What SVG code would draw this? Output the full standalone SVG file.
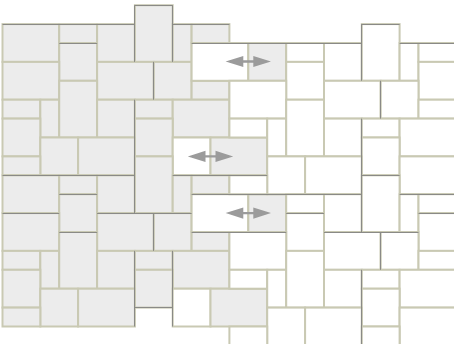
<svg xmlns="http://www.w3.org/2000/svg" width="454" height="344" viewBox="0 0 454 344">
<style>
rect{stroke:#c9c9b3;stroke-width:2}
.g{fill:#ececec}
.w{fill:#ffffff}
.dk{fill:none;stroke:#8a8a86;stroke-width:1}
.arr{fill:#9b9b9b}
</style>
<defs>
<path id="arrow" d="M-22.7,0 L-5,-5.6 L-5,-1.2 L5,-1.2 L5,-5.6 L22.7,0 L5,5.6 L5,1.2 L-5,1.2 L-5,5.6 Z"/>
</defs>
<rect x="0" y="0" width="454" height="344" fill="#ffffff" style="stroke:none"/>
<g id="left-piece">
<rect class="g" x="2.5" y="24.1" width="56.7" height="37.8"/>
<rect class="g" x="59.2" y="24.1" width="37.9" height="18.9"/>
<rect class="g" x="59.2" y="43.0" width="37.9" height="37.8"/>
<rect class="g" x="97.1" y="24.1" width="37.8" height="37.8"/>
<rect class="g" x="134.9" y="5.2" width="37.8" height="56.7"/>
<rect class="g" x="172.7" y="24.1" width="18.9" height="37.8"/>
<rect class="g" x="191.6" y="24.1" width="37.8" height="18.9"/>
<rect class="g" x="2.5" y="61.9" width="56.7" height="37.8"/>
<rect class="g" x="97.1" y="61.9" width="56.7" height="37.8"/>
<rect class="g" x="153.8" y="61.9" width="37.8" height="37.8"/>
<rect class="g" x="191.6" y="80.8" width="37.8" height="18.9"/>
<rect class="g" x="2.5" y="99.7" width="37.8" height="18.9"/>
<rect class="g" x="40.3" y="99.7" width="18.9" height="37.8"/>
<rect class="g" x="59.2" y="80.8" width="37.9" height="56.7"/>
<rect class="g" x="97.1" y="99.7" width="37.8" height="37.8"/>
<rect class="g" x="134.9" y="99.7" width="37.8" height="18.9"/>
<rect class="g" x="172.7" y="99.7" width="56.7" height="37.8"/>
<rect class="g" x="2.5" y="118.6" width="37.8" height="37.8"/>
<rect class="g" x="134.9" y="118.6" width="37.8" height="37.8"/>
<rect class="g" x="40.3" y="137.5" width="37.8" height="37.8"/>
<rect class="g" x="78.1" y="137.5" width="56.8" height="37.8"/>
<rect class="g" x="2.5" y="156.4" width="37.8" height="18.9"/>
<rect class="w" x="191.6" y="43.0" width="56.7" height="37.8"/>
<rect class="g" x="248.3" y="43.0" width="37.9" height="37.8"/>
<rect class="w" x="172.7" y="137.5" width="37.8" height="37.8"/>
<rect class="g" x="210.5" y="137.5" width="56.7" height="37.8"/>
<rect class="g" x="2.5" y="175.3" width="56.7" height="37.8"/>
<rect class="g" x="59.2" y="175.3" width="37.9" height="18.9"/>
<rect class="g" x="59.2" y="194.2" width="37.9" height="37.8"/>
<rect class="g" x="97.1" y="175.3" width="37.8" height="37.8"/>
<rect class="g" x="134.9" y="156.4" width="37.8" height="56.7"/>
<rect class="g" x="172.7" y="175.3" width="18.9" height="37.8"/>
<rect class="g" x="191.6" y="175.3" width="37.8" height="18.9"/>
<rect class="g" x="2.5" y="213.1" width="56.7" height="37.8"/>
<rect class="g" x="97.1" y="213.1" width="56.7" height="37.8"/>
<rect class="g" x="153.8" y="213.1" width="37.8" height="37.8"/>
<rect class="g" x="191.6" y="232.0" width="37.8" height="18.9"/>
<rect class="g" x="2.5" y="250.9" width="37.8" height="18.9"/>
<rect class="g" x="40.3" y="250.9" width="18.9" height="37.8"/>
<rect class="g" x="59.2" y="232.0" width="37.9" height="56.7"/>
<rect class="g" x="97.1" y="250.9" width="37.8" height="37.8"/>
<rect class="g" x="134.9" y="250.9" width="37.8" height="18.9"/>
<rect class="g" x="172.7" y="250.9" width="56.7" height="37.8"/>
<rect class="g" x="2.5" y="269.8" width="37.8" height="37.8"/>
<rect class="g" x="134.9" y="269.8" width="37.8" height="37.8"/>
<rect class="g" x="40.3" y="288.7" width="37.8" height="37.8"/>
<rect class="g" x="78.1" y="288.7" width="56.8" height="37.8"/>
<rect class="g" x="2.5" y="307.6" width="37.8" height="18.9"/>
<rect class="w" x="191.6" y="194.2" width="56.7" height="37.8"/>
<rect class="g" x="248.3" y="194.2" width="37.9" height="37.8"/>
<rect class="w" x="172.7" y="288.7" width="37.8" height="37.8"/>
<rect class="g" x="210.5" y="288.7" width="56.7" height="37.8"/>
</g>
<g id="right-piece">
<rect class="w" x="286.2" y="43.0" width="37.8" height="18.9"/>
<rect class="w" x="286.2" y="61.9" width="37.8" height="37.8"/>
<rect class="w" x="324.0" y="43.0" width="37.8" height="37.8"/>
<rect class="w" x="361.8" y="24.1" width="37.8" height="56.7"/>
<rect class="w" x="399.6" y="43.0" width="18.9" height="37.8"/>
<rect class="w" x="418.5" y="43.0" width="37.8" height="18.9"/>
<rect class="w" x="418.5" y="61.9" width="37.8" height="37.8"/>
<rect class="w" x="229.4" y="80.8" width="56.8" height="37.8"/>
<rect class="w" x="324.0" y="80.8" width="56.7" height="37.8"/>
<rect class="w" x="380.7" y="80.8" width="37.8" height="37.8"/>
<rect class="w" x="418.5" y="99.7" width="37.8" height="18.9"/>
<rect class="w" x="229.4" y="118.6" width="37.8" height="18.9"/>
<rect class="w" x="267.2" y="118.6" width="19.0" height="37.8"/>
<rect class="w" x="286.2" y="99.7" width="37.8" height="56.7"/>
<rect class="w" x="324.0" y="118.6" width="37.8" height="37.8"/>
<rect class="w" x="361.8" y="118.6" width="37.8" height="18.9"/>
<rect class="w" x="399.6" y="118.6" width="56.7" height="37.8"/>
<rect class="w" x="361.8" y="137.5" width="37.8" height="37.8"/>
<rect class="w" x="267.2" y="156.4" width="37.9" height="37.8"/>
<rect class="w" x="305.1" y="156.4" width="56.7" height="37.8"/>
<rect class="w" x="399.6" y="156.4" width="56.7" height="37.8"/>
<rect class="w" x="229.4" y="175.3" width="37.8" height="18.9"/>
<rect class="w" x="286.2" y="194.2" width="37.8" height="18.9"/>
<rect class="w" x="286.2" y="213.1" width="37.8" height="37.8"/>
<rect class="w" x="324.0" y="194.2" width="37.8" height="37.8"/>
<rect class="w" x="361.8" y="175.3" width="37.8" height="56.7"/>
<rect class="w" x="399.6" y="194.2" width="18.9" height="37.8"/>
<rect class="w" x="418.5" y="194.2" width="37.8" height="18.9"/>
<rect class="w" x="418.5" y="213.1" width="37.8" height="37.8"/>
<rect class="w" x="229.4" y="232.0" width="56.8" height="37.8"/>
<rect class="w" x="324.0" y="232.0" width="56.7" height="37.8"/>
<rect class="w" x="380.7" y="232.0" width="37.8" height="37.8"/>
<rect class="w" x="418.5" y="250.9" width="37.8" height="18.9"/>
<rect class="w" x="229.4" y="269.8" width="37.8" height="18.9"/>
<rect class="w" x="267.2" y="269.8" width="19.0" height="37.8"/>
<rect class="w" x="286.2" y="250.9" width="37.8" height="56.7"/>
<rect class="w" x="324.0" y="269.8" width="37.8" height="37.8"/>
<rect class="w" x="361.8" y="269.8" width="37.8" height="18.9"/>
<rect class="w" x="399.6" y="269.8" width="56.7" height="37.8"/>
<rect class="w" x="361.8" y="288.7" width="37.8" height="37.8"/>
<rect class="w" x="267.2" y="307.6" width="37.9" height="37.8"/>
<rect class="w" x="305.1" y="307.6" width="56.7" height="37.8"/>
<rect class="w" x="399.6" y="307.6" width="56.7" height="37.8"/>
<rect class="w" x="229.4" y="326.5" width="37.8" height="18.9"/>
<rect class="w" x="361.8" y="326.5" width="37.8" height="56.7"/>
</g>
<g id="dark-joints" class="dk">
<path d="M134.9,5.5H172.7 M2.5,24.5H134.9 M172.7,24.5H229.4 M361.8,24.5H399.6 M59.2,43.5H97.1 M191.6,43.5H361.8 M399.6,43.5H456 M2.5,175.5H134.9 M172.7,175.5H267.2 M361.8,175.5H399.6 M59.2,194.5H97.1 M191.6,194.5H361.8 M399.6,194.5H456 M2.5,213.5H59.2 M97.1,213.5H191.6 M286.2,213.5H324 M418.5,213.5H456 M59.2,232.5H97.1 M191.6,232.5H286.2 M324,232.5H418.5 M134.9,307.5H172.7"/>
<path d="M134.5,5.2V61.9 M134.5,99.7V213.1 M134.5,250.9V326.5 M153.5,61.9V99.7 M153.5,213.1V250.9 M172.5,5.2V61.9 M172.5,250.9V326.5 M361.5,24.1V80.8 M361.5,118.6V232 M361.5,269.8V344 M380.5,80.8V118.6 M380.5,232V269.8"/>
</g>
<g id="arrows" class="arr">
<use href="#arrow" transform="translate(248.3,61.5)"/>
<use href="#arrow" transform="translate(210.5,156.4)"/>
<use href="#arrow" transform="translate(248.3,213.1)"/>
</g>
</svg>
